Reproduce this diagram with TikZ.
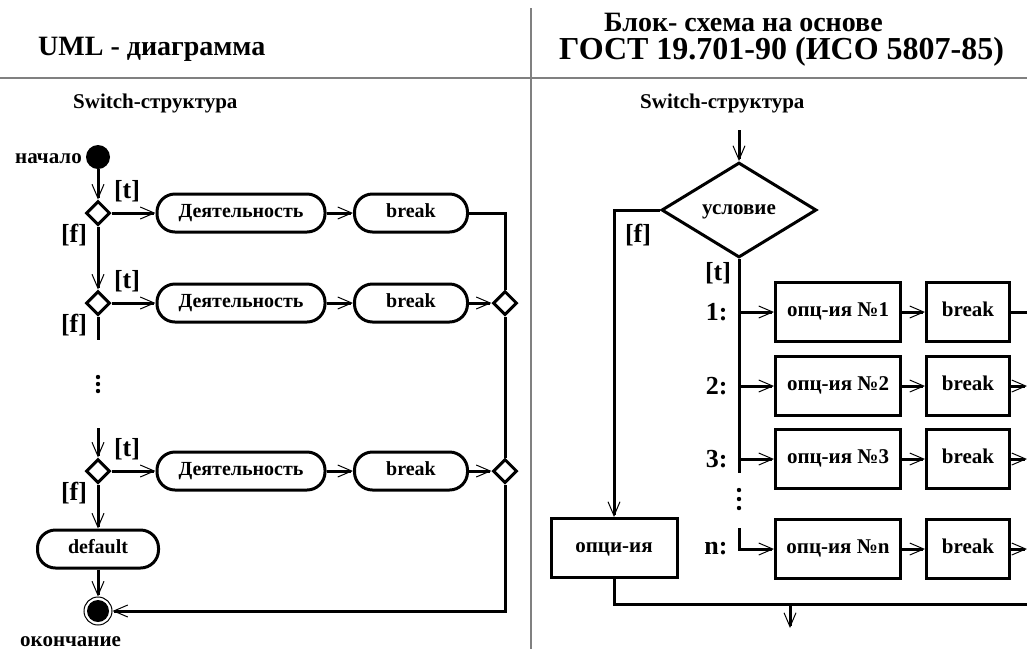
\documentclass[tikz,border=0pt]{standalone}
\usepackage{fontspec}
\setmainfont{Liberation Serif}
\usetikzlibrary{arrows.meta,shapes.geometric,positioning}

\tikzset{
  flow/.style={line width=3pt},
  arr/.style={line width=3pt,-{Straight Barb[length=14pt,width=12pt,line width=1pt]}},
  act/.style={draw,line width=3pt,rectangle,rounded corners=18pt,minimum height=38pt,inner sep=0pt,
              text height=9.6pt,text depth=0pt,font=\bfseries\fontsize{20}{22}\selectfont},
  dec/.style={draw,line width=3pt,diamond,inner sep=0pt,minimum width=24pt,minimum height=24pt},
  blk/.style={draw,line width=3pt,rectangle,minimum height=59pt,inner sep=0pt,
              text height=9.8pt,text depth=0pt,font=\bfseries\fontsize{21}{23}\selectfont},
  lbl/.style={font=\bfseries\fontsize{26}{28}\selectfont},
  sub/.style={inner sep=0pt,font=\bfseries\fontsize{21}{23}\selectfont},
  sml/.style={inner sep=0pt,font=\bfseries\fontsize{21}{23}\selectfont}
}

\begin{document}
\begin{tikzpicture}[x=1pt,y=-1pt]
        \useasboundingbox (0,0) rectangle (1027,649);

        % 1. Frame lines and titles
        \draw[gray,line width=2pt] (0,78) -- (1027,78);
        \draw[gray,line width=2pt] (531,8) -- (531,649);
        \node[inner sep=0pt,anchor=base west,font=\bfseries\fontsize{28}{30}\selectfont] (umlTitle) at (38,55) {UML - диаграмма};
        \node[inner sep=0pt,anchor=base west,text depth=0pt,font=\bfseries\fontsize{28}{30}\selectfont] (gostA) at (604,31) {Блок- схема на основе};
        \node[inner sep=0pt,anchor=base west,text height=20pt,font=\bfseries\fontsize{32}{34}\selectfont] (gostB) at (559,59) {ГОСТ 19.701-90 (ИСО 5807-85)};
        \node[sub,anchor=base west] (subL) at (73,108) {Switch-структура};
        \node[sub,anchor=base west] (subR) at (640,108) {Switch-структура};

        % 2. UML: start, decisions and activities
        \node[circle,fill,minimum size=24pt,inner sep=0pt] (start) at (98,157) {};
        \node[sml,anchor=base east] (startLbl) at (82,163) {начало};
        \foreach \r/\y in {1/213,2/303,3/471} {
            \node[dec] (d\r) at (98,\y) {};
            \node[act,minimum width=168pt] (a\r) at (241,\y) {Деятельность};
            \node[act,minimum width=113pt] (b\r) at (411,\y) {break};
            \draw[arr] (d\r.east) -- (a\r);
            \draw[arr] (a\r) -- (b\r);
            \node[lbl] (t\r) at (127,\y-22) {[t]};
            \node[lbl] (f\r) at (74,\y+22) {[f]};
        }
        \node[dec] (m2) at (505,303) {};
        \node[dec] (m3) at (505,471) {};
        \node[act,minimum width=121pt] (dflt) at (98,549) {default};
        \node[circle,draw,line width=1pt,minimum size=28pt,inner sep=0pt] (stop) at (98,611) {};
        \fill (stop) circle (11pt);
        \node[sml,anchor=base west] (stopLbl) at (20,646) {окончание};

        % 3. UML: connectors
        \coordinate (cutA) at (98,340);
        \coordinate (cutB) at (98,428);
        \draw[arr] (start) -- (d1.north);
        \draw[arr] (d1.south) -- (d2.north);
        \draw[flow] (d2.south) -- (cutA);
        \foreach \k in {377,384,391}
            \fill (98,\k) circle (2.2pt);
        \draw[arr] (cutB) -- (d3.north);
        \draw[arr] (d3.south) -- (dflt);
        \draw[arr] (dflt) -- (stop);
        \draw[arr] (b2) -- (m2);
        \draw[arr] (b3) -- (m3);
        \draw[flow] (b1.east) -| (m2.north);
        \draw[flow] (m2.south) -- (m3.north);
        \draw[arr] (m3.south) |- (stop.east);

        % 4. Flowchart: condition and options
        \coordinate (inR) at (739,130);
        \coordinate (rEdge) at (1027,0);
        \node[diamond,draw,line width=3pt,minimum width=155pt,minimum height=95pt,inner sep=0pt,
              text height=9.6pt,text depth=0pt,font=\bfseries\fontsize{21}{23}\selectfont] (cond) at (739,210) {условие};
        \node[blk,minimum width=126pt] (optD) at (614,548) {опци-ия};
        \node[lbl] (fR) at (638,235) {[f]};
        \node[lbl] (tR) at (718,273) {[t]};
        \foreach \r/\y/\n in {1/312/1,2/386/2,3/459/3,4/549/n} {
            \node[blk,minimum width=125pt] (o\r) at (838,\y) {опц-ия №\n};
            \node[blk,minimum width=83pt] (k\r) at (968,\y) {break};
            \node[lbl,anchor=east] (n\r) at (731,\y) {\n:};
            \draw[arr] (o\r) -- (k\r);
        }

        % 5. Flowchart: connectors
        \coordinate (tEnd) at (739,473);
        \coordinate (nTop) at (739,528);
        \coordinate (botJ) at (790,604);
        \coordinate (outR) at (790,628);
        \draw[arr] (inR) -- (cond.north);
        \draw[arr] (cond.west) -| (optD.north);
        \draw[flow] (cond.south) -- (tEnd);
        \foreach \r in {1,2,3}
            \draw[arr] (o\r.west -| cond.south) -- (o\r.west);
        \foreach \k in {490,499,508}
            \fill (739,\k) circle (2.2pt);
        \draw[arr] (nTop) |- (o4.west);
        \draw[flow] (k1.east) -- (k1.east -| rEdge);
        \foreach \r in {2,3,4}
            \draw[arr] (k\r.east) -- (k\r.east -| rEdge);
        \draw[flow] (optD.south) |- (botJ) -- (botJ -| rEdge);
        \draw[arr] (botJ) -- (outR);

    \end{tikzpicture}
\end{document}
